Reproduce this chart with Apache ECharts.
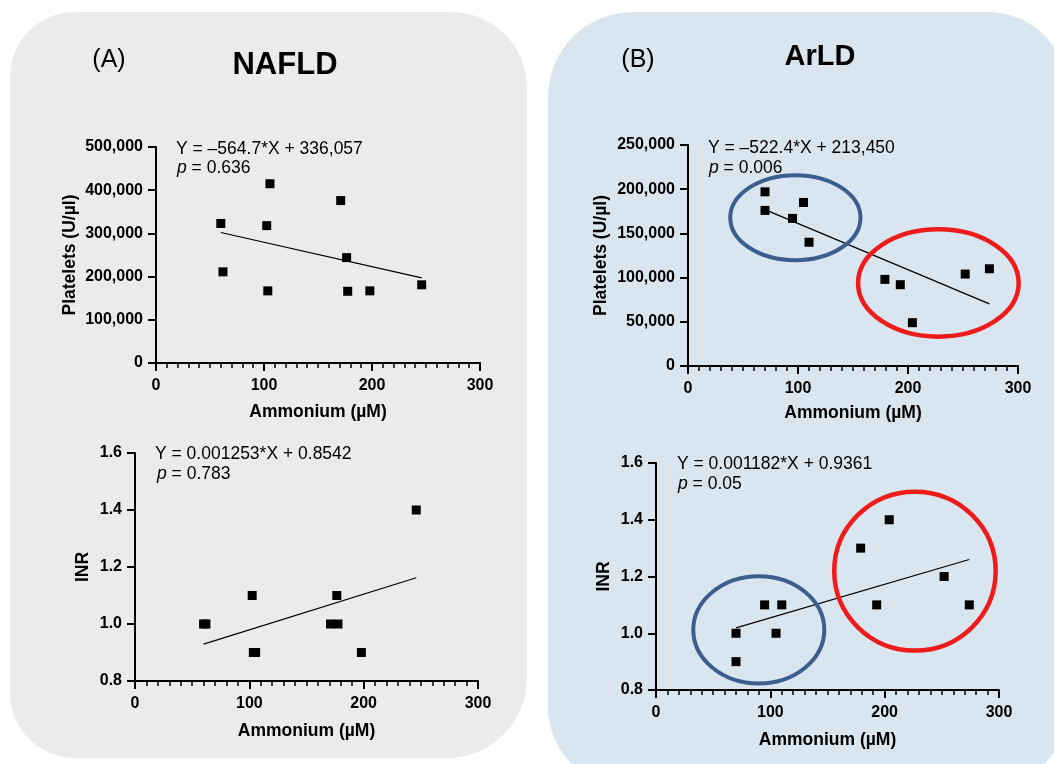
<!DOCTYPE html>
<html>
<head>
<meta charset="utf-8">
<script src="https://cdn.jsdelivr.net/npm/echarts@6/dist/echarts.min.js"></script>
<style>
html,body{margin:0;padding:0;background:#fff;}
#chart{width:1054px;height:764px;}
</style>
</head>
<body>
<div id="chart"></div>
<script>
// ---- Data ----
const xTicks = [0, 100, 200, 300];
const nafldAmmonium = [60, 62, 102.5, 103.5, 105.5, 171, 176.5, 177.5, 198, 246];
const nafldPlatelets = [323000, 211000, 318000, 167000, 415000, 376000, 244000, 166000, 167000, 181000];
const nafldINR = [1.0, 1.0, 1.1, 0.9, 0.9, 1.0, 1.1, 1.0, 0.9, 1.4];

const arldAmmonium = [70, 70, 95, 105, 110, 179, 193, 204, 252, 274];
const arldPlatelets = [197000, 176000, 167000, 185000, 140000, 98000, 92000, 49000, 104000, 110000];
const arldINR = [1.0, 0.9, 1.1, 1.0, 1.1, 1.3, 1.1, 1.4, 1.2, 1.1];

// regression: [slope, intercept]
const fitNafldPlt = [-564.7, 336057];
const fitNafldINR = [0.001253, 0.8542];
const fitArldPlt = [-522.4, 213450];
const fitArldINR = [0.001182, 0.9361];

const eqTexts = ['Y = \u2013564.7*X + 336,057', 'Y = 0.001253*X + 0.8542', 'Y = \u2013522.4*X + 213,450', 'Y = 0.001182*X + 0.9361'];
const pTexts = ['0.636', '0.783', '0.006', '0.05'];

// group ellipses: [cx, cy, rx, ry] in data units
const arldPltGroups = [[97.6, 167800, 59.2, 48100], [227.6, 93900, 73, 60700]];
const arldINRGroups = [[89.9, 1.012, 57.3, 0.189], [226.5, 1.219, 70.6, 0.280]];
const groupColors = ['#3c5e8e', '#ee1b1b'];

// ---- Build chart ----
const FONT = '"Liberation Sans", Arial, Helvetica, sans-serif';
const chart = echarts.init(document.getElementById('chart'));

function pairs(xs, ys) { return xs.map((x, i) => [x, ys[i]]); }
function fitLine(xs, fit) {
  const lo = Math.min(...xs), hi = Math.max(...xs);
  return [[lo, fit[0] * lo + fit[1]], [hi, fit[0] * hi + fit[1]]];
}
function fmtThousands(v) { return String(v).replace(/\B(?=(\d{3})+(?!\d))/g, ','); }

const grids = [
  {left: 156, top: 147, width: 324, height: 216},
  {left: 135, top: 453, width: 343, height: 228},
  {left: 688, top: 145, width: 330, height: 221},
  {left: 656, top: 463, width: 343, height: 227}
];
const nameGapsX = [40, 41, 38, 41];
const nameGapsY = [77, 43, 78, 43];
const yNames = ['Platelets (U/\u00b5l)', 'INR', 'Platelets (U/\u00b5l)', 'INR'];
const yRanges = [[0, 500000, 100000], [0.8, 1.6, 0.2], [0, 250000, 50000], [0.8, 1.6, 0.2]];

const axisCommon = {
  axisLine: {show: true, lineStyle: {color: '#000', width: 2}},
  axisTick: {show: true, length: 8, lineStyle: {color: '#000', width: 2}},
  splitLine: {show: false},
  axisLabel: {color: '#000', fontFamily: FONT, fontWeight: 'bold', fontSize: 16},
  nameTextStyle: {color: '#000', fontFamily: FONT, fontWeight: 'bold', fontSize: 17.5}
};

const xAxes = grids.map((g, i) => Object.assign({}, JSON.parse(JSON.stringify(axisCommon)), {
  type: 'value', gridIndex: i, min: xTicks[0], max: xTicks[xTicks.length - 1], interval: 100,
  name: 'Ammonium (\u00b5M)', nameLocation: 'middle', nameGap: nameGapsX[i],
  minorTick: {show: true, splitNumber: 10, length: 5, lineStyle: {color: '#000', width: 1.5}},
  axisLabel: Object.assign({}, axisCommon.axisLabel, {margin: 15})
}));
const yAxes = grids.map((g, i) => Object.assign({}, JSON.parse(JSON.stringify(axisCommon)), {
  type: 'value', gridIndex: i, min: yRanges[i][0], max: yRanges[i][1], interval: yRanges[i][2],
  name: yNames[i], nameLocation: 'middle', nameGap: nameGapsY[i],
  axisLabel: Object.assign({}, axisCommon.axisLabel, {
    margin: 13,
    formatter: (i % 2 === 0) ? (v => fmtThousands(v)) : (v => v.toFixed(1))
  })
}));

const scatterSets = [
  pairs(nafldAmmonium, nafldPlatelets), pairs(nafldAmmonium, nafldINR),
  pairs(arldAmmonium, arldPlatelets), pairs(arldAmmonium, arldINR)
];
const lineSets = [
  fitLine(nafldAmmonium, fitNafldPlt), fitLine(nafldAmmonium, fitNafldINR),
  fitLine(arldAmmonium, fitArldPlt), fitLine(arldAmmonium, fitArldINR)
];

const series = [];
lineSets.forEach((d, i) => series.push({
  type: 'line', xAxisIndex: i, yAxisIndex: i, data: d, symbol: 'none', silent: true,
  lineStyle: {color: '#000', width: 1.2}, z: 3
}));
scatterSets.forEach((d, i) => series.push({
  type: 'scatter', xAxisIndex: i, yAxisIndex: i, data: d, symbol: 'rect', symbolSize: 9,
  itemStyle: {color: '#000', opacity: 1}, z: 5
}));
[[2, arldPltGroups], [3, arldINRGroups]].forEach(([gi, groups]) => series.push({
  type: 'custom', xAxisIndex: gi, yAxisIndex: gi, silent: true, z: 4,
  data: groups,
  encode: {x: 0, y: 1},
  renderItem: function (params, api) {
    const c = api.coord([api.value(0), api.value(1)]);
    const s = api.size([api.value(2), api.value(3)]);
    return {
      type: 'ellipse',
      shape: {cx: c[0], cy: c[1], rx: s[0], ry: s[1]},
      style: {fill: 'none', stroke: groupColors[params.dataIndex], lineWidth: params.dataIndex === 0 ? 4 : 4.5}
    };
  }
}));

const eqPos = [[176, 149, 177, 168], [155, 454, 157, 474], [708, 148, 709, 168], [677, 464, 678, 484]];
const graphics = [
  {type: 'rect', z: -100, shape: {x: 10, y: 12, width: 517, height: 746, r: [65, 76, 80, 65]}, style: {fill: '#ebebeb'}},
  {type: 'rect', z: -100, shape: {x: 548, y: 12, width: 520, height: 775, r: [85, 80, 80, 80]}, style: {fill: '#dae6ef'}},
  {type: 'text', x: 109, y: 60, style: {text: '(A)', font: '25px ' + FONT, fill: '#000', textAlign: 'center', textVerticalAlign: 'middle'}},
  {type: 'text', x: 285, y: 65, style: {text: 'NAFLD', font: 'bold 31px ' + FONT, fill: '#000', textAlign: 'center', textVerticalAlign: 'middle'}},
  {type: 'text', x: 638, y: 60, style: {text: '(B)', font: '25px ' + FONT, fill: '#000', textAlign: 'center', textVerticalAlign: 'middle'}},
  {type: 'text', x: 820, y: 57, style: {text: 'ArLD', font: 'bold 29px ' + FONT, fill: '#000', textAlign: 'center', textVerticalAlign: 'middle'}}
];
eqPos.forEach((p, i) => {
  graphics.push({type: 'text', x: p[0], y: p[1], z: 10, style: {text: eqTexts[i], font: '17.5px ' + FONT, fill: '#000', textAlign: 'left', textVerticalAlign: 'middle'}});
  graphics.push({type: 'text', x: p[2], y: p[3], z: 10, style: {
    text: '{i|p} = ' + pTexts[i], font: '17.5px ' + FONT, fill: '#000', textAlign: 'left', textVerticalAlign: 'middle',
    rich: {i: {fontStyle: 'italic', fontSize: 17.5, fontFamily: FONT, fill: '#000'}}
  }});
});

chart.setOption({
  animation: false,
  backgroundColor: '#ffffff',
  grid: grids,
  xAxis: xAxes,
  yAxis: yAxes,
  series: series,
  graphic: {elements: graphics}
});
</script>
</body>
</html>
